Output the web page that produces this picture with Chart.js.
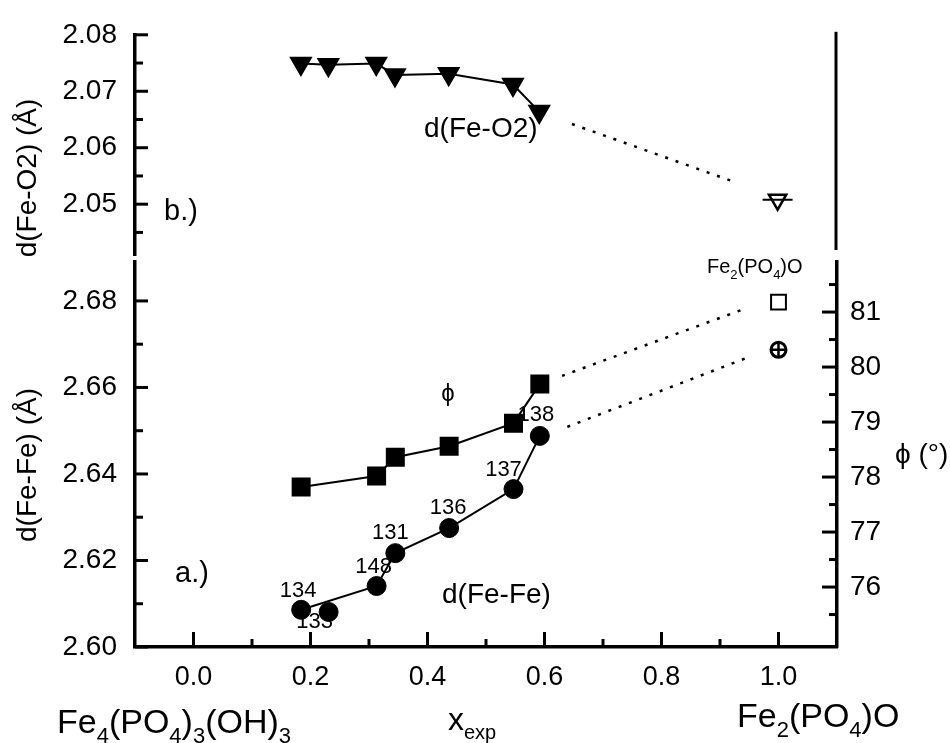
<!DOCTYPE html>
<html>
<head>
<meta charset="utf-8">
<script src="https://cdn.jsdelivr.net/npm/chart.js@4.4.1/dist/chart.umd.min.js"></script>
<style>
  html, body { margin: 0; padding: 0; background: #fff; }
  #wrap { position: relative; width: 950px; height: 743px; }
  #wrap canvas { position: absolute; left: 0; top: 0; }
</style>
</head>
<body>
<div id="wrap">
  <canvas id="panelB" width="950" height="743"></canvas>
  <canvas id="panelA" width="950" height="743"></canvas>
</div>
<script>
// ---- data ----
const xExp       = [0.184, 0.231, 0.313, 0.345, 0.437, 0.547, 0.592];
const sampleTags = ['134', '133', '148', '131', '136', '137', '138'];
const dFeO2      = [2.0749, 2.0747, 2.0749, 2.0729, 2.0731, 2.0712, 2.0664];
const dFeFe      = [2.6086, 2.6081, 2.6141, 2.6217, 2.6275, 2.6365, 2.6488];
const feFeLinked = [0, 2, 3, 4, 5, 6];          // sample 133 is not on the line
const phiX       = [0.184, 0.313, 0.345, 0.437, 0.547, 0.592];
const phiDeg     = [77.82, 78.02, 78.36, 78.56, 78.98, 79.69];

// Fe2(PO4)O end member
const refX     = 1.0;
const refFeO2  = 2.0508;
const refFeFe  = 2.6687;
const refPhi   = 81.18;

// dotted guides toward the end member [x, y]
const guideFeO2 = [[0.648, 2.0642], [0.919, 2.0542]];
const guidePhi  = [[0.630, 79.84], [0.940, 81.05]];
const guideFeFe = [[0.639, 2.6509], [0.945, 2.6668]];

// ticks
const xTicks       = [0.0, 0.2, 0.4, 0.6, 0.8, 1.0];
const xMinor       = [0.1, 0.3, 0.5, 0.7, 0.9];
const feO2Ticks    = [2.05, 2.06, 2.07, 2.08];
const feO2Minor    = [2.045, 2.055, 2.065, 2.075];
const feFeTicks    = [2.60, 2.62, 2.64, 2.66, 2.68];
const feFeMinor    = [2.61, 2.63, 2.65, 2.67];
const phiTicks     = [76, 77, 78, 79, 80, 81];
const phiMinor     = [75.5, 76.5, 77.5, 78.5, 79.5, 80.5, 81.5];

// ---- helpers ----
const FONT = "'Liberation Sans', Arial, sans-serif";
Chart.defaults.font.family = FONT;
Chart.defaults.color = '#000';
Chart.defaults.animation = false;

const pts = (xs, ys) => xs.map((x, i) => ({ x, y: ys[i] }));
const pairPts = arr => arr.map(([x, y]) => ({ x, y }));

// "Fe_{2}(PO_{4})O" -> subscripts
function richText(ctx, x, y, str, size, align) {
  const parts = [];
  const re = /_\{([^}]*)\}/g;
  let last = 0, m;
  while ((m = re.exec(str))) {
    if (m.index > last) parts.push([str.slice(last, m.index), false]);
    parts.push([m[1], true]);
    last = re.lastIndex;
  }
  if (last < str.length) parts.push([str.slice(last), false]);
  const sub = Math.round(size * 0.64);
  const f = s => s + 'px ' + FONT;
  let w = 0;
  parts.forEach(([t, s]) => { ctx.font = f(s ? sub : size); w += ctx.measureText(t).width; });
  let cx = align === 'center' ? x - w / 2 : x;
  ctx.textAlign = 'left';
  ctx.textBaseline = 'alphabetic';
  parts.forEach(([t, s]) => {
    ctx.font = f(s ? sub : size);
    ctx.fillText(t, cx, s ? y + size * 0.28 : y);
    cx += ctx.measureText(t).width;
  });
}

function fixedTicks(values, digits, padding, size) {
  return {
    afterBuildTicks: s => { s.ticks = values.map(v => ({ value: v })); },
    ticks: { callback: v => Number(v).toFixed(digits), padding, font: { size }, maxRotation: 0 }
  };
}

// inward tick marks + free text
const decor = {
  id: 'decor',
  afterDraw(chart, args, opts) {
    const { ctx, chartArea: a } = chart;
    ctx.save();
    ctx.strokeStyle = '#000';
    ctx.fillStyle = '#000';
    ctx.lineWidth = 3;
    (opts.marks || []).forEach(set => {
      const s = chart.scales[set.axis];
      set.values.forEach(v => {
        const p = s.getPixelForValue(v);
        ctx.beginPath();
        if (set.axis === 'x') { ctx.moveTo(p, a.bottom); ctx.lineTo(p, a.bottom - set.len); }
        else if (s.position === 'left') { ctx.moveTo(a.left, p); ctx.lineTo(a.left + set.len, p); }
        else { ctx.moveTo(a.right, p); ctx.lineTo(a.right - set.len, p); }
        ctx.stroke();
      });
    });
    if (opts.rightLine) {
      ctx.beginPath();
      ctx.moveTo(a.right, a.top - 3);
      ctx.lineTo(a.right, a.bottom - 5);
      ctx.stroke();
    }
    (opts.texts || []).forEach(t => {
      ctx.save();
      ctx.translate(t.x, t.y);
      if (t.rotate) ctx.rotate(t.rotate);
      richText(ctx, 0, 0, t.text, t.size, t.align || 'left');
      ctx.restore();
    });
    if (opts.tags) {
      const meta = chart.getDatasetMeta(opts.tags.dataset);
      ctx.font = opts.tags.size + 'px ' + FONT;
      ctx.textAlign = 'center';
      ctx.textBaseline = 'middle';
      meta.data.forEach((el, i) => {
        const [dx, dy] = opts.tags.offsets[i];
        ctx.fillText(opts.tags.labels[i], el.x + dx, el.y + dy);
      });
    }
    ctx.restore();
  }
};

const dotted = { borderColor: '#000', borderWidth: 2.5, borderDash: [3, 8], pointRadius: 0, showLine: true };
const axisBase = {
  type: 'linear',
  grid: { drawOnChartArea: false, drawTicks: false },
  border: { display: true, color: '#000', width: 3.5 }
};

// ---- panel b: d(Fe-O2) ----
// (Chart.js paints lower dataset indices on top)
new Chart(document.getElementById('panelA'), {
  type: 'scatter',
  data: {
    datasets: [
      { data: pts(xExp, dFeO2), showLine: true, borderColor: '#000', borderWidth: 2,
        pointStyle: 'triangle', rotation: 180, pointRadius: 11.5,
        pointBackgroundColor: '#000', pointBorderColor: '#000' },
      { data: [{ x: refX, y: refFeO2 }], pointStyle: 'line', pointRadius: 15,
        pointBorderColor: '#000', pointBorderWidth: 2 },
      { data: [{ x: refX, y: refFeO2 }], pointStyle: 'triangle', rotation: 180, pointRadius: 10,
        pointBackgroundColor: '#fff', pointBorderColor: '#000', pointBorderWidth: 2.5 },
      Object.assign({ data: pairPts(guideFeO2) }, dotted)
    ]
  },
  options: {
    responsive: false,
    layout: { padding: { top: 25, bottom: 488, left: 0, right: 114 } },
    plugins: {
      legend: { display: false }, tooltip: { enabled: false },
      decor: {
        marks: [
          { axis: 'y', values: feO2Ticks, len: 13 },
          { axis: 'y', values: feO2Minor, len: 8 }
        ],
        rightLine: true,
        texts: [
          { text: 'b.)', x: 164, y: 220, size: 29 },
          { text: 'd(Fe-O2)', x: 424, y: 137, size: 28 },
          { text: 'd(Fe-O2) (Å)', x: 36, y: 178, size: 28, align: 'center', rotate: -Math.PI / 2 }
        ]
      }
    },
    scales: {
      x: { type: 'linear', min: -0.1, max: 1.1, display: false },
      y: Object.assign({}, axisBase, {
        position: 'left', min: 2.041, max: 2.08,
        afterFit: s => { s.width = 135; }
      }, fixedTicks(feO2Ticks, 2, 18, 28))
    }
  },
  plugins: [decor]
});

// ---- panel a: d(Fe-Fe) and phi ----
new Chart(document.getElementById('panelB'), {
  type: 'scatter',
  data: {
    datasets: [
      { data: pts(xExp, dFeFe), pointStyle: 'circle', pointRadius: 9.5,
        pointBackgroundColor: '#000', pointBorderColor: '#000', yAxisID: 'y' },
      { data: feFeLinked.map(i => ({ x: xExp[i], y: dFeFe[i] })), showLine: true,
        borderColor: '#000', borderWidth: 2, pointRadius: 0, yAxisID: 'y' },
      { data: pts(phiX, phiDeg), showLine: true, borderColor: '#000', borderWidth: 2,
        pointStyle: 'rect', pointRadius: 12, pointBackgroundColor: '#000',
        pointBorderColor: '#000', yAxisID: 'y2' },
      { data: [{ x: refX, y: refPhi }], pointStyle: 'rect', pointRadius: 10.5,
        pointBackgroundColor: '#fff', pointBorderColor: '#000', pointBorderWidth: 2, yAxisID: 'y2' },
      { data: [{ x: refX, y: refFeFe }], pointStyle: 'cross', pointRadius: 7.5,
        pointBorderColor: '#000', pointBorderWidth: 2.5, yAxisID: 'y' },
      { data: [{ x: refX, y: refFeFe }], pointStyle: 'circle', pointRadius: 7.5,
        pointBackgroundColor: '#fff', pointBorderColor: '#000', pointBorderWidth: 3, yAxisID: 'y' },
      Object.assign({ data: pairPts(guidePhi), yAxisID: 'y2' }, dotted),
      Object.assign({ data: pairPts(guideFeFe), yAxisID: 'y' }, dotted)
    ]
  },
  options: {
    responsive: false,
    layout: { padding: { top: 262, bottom: 0, left: 0, right: 0 } },
    plugins: {
      legend: { display: false }, tooltip: { enabled: false },
      decor: {
        marks: [
          { axis: 'x', values: xTicks, len: 15 },
          { axis: 'x', values: xMinor, len: 8 },
          { axis: 'y', values: feFeTicks, len: 13 },
          { axis: 'y', values: feFeMinor, len: 8 },
          { axis: 'y2', values: phiTicks, len: 15 },
          { axis: 'y2', values: phiMinor, len: 8 }
        ],
        texts: [
          { text: 'a.)', x: 175, y: 582, size: 29 },
          { text: 'd(Fe-Fe)', x: 442, y: 603, size: 28 },
          { text: 'ϕ', x: 448, y: 401, size: 24, align: 'center' },
          { text: 'Fe_{2}(PO_{4})O', x: 707, y: 273, size: 20 },
          { text: 'ϕ (°)', x: 895, y: 463, size: 28 },
          { text: 'Fe_{4}(PO_{4})_{3}(OH)_{3}', x: 57, y: 733, size: 34 },
          { text: 'x_{exp}', x: 448, y: 730, size: 32 },
          { text: 'Fe_{2}(PO_{4})O', x: 737, y: 727, size: 34 },
          { text: 'd(Fe-Fe) (Å)', x: 36, y: 465, size: 28, align: 'center', rotate: -Math.PI / 2 }
        ],
        tags: {
          dataset: 0, labels: sampleTags, size: 22,
          offsets: [[-3, -19], [-14, 10], [-3, -19], [-5, -20], [-1, -20], [-10, -19], [-4, -21]]
        }
      }
    },
    scales: {
      x: Object.assign({}, axisBase, {
        position: 'bottom', min: -0.1, max: 1.1,
        afterFit: s => { s.height = 96; }
      }, fixedTicks(xTicks, 1, 14, 27)),
      y: Object.assign({}, axisBase, {
        position: 'left', min: 2.60, max: 2.689,
        afterFit: s => { s.width = 135; }
      }, fixedTicks(feFeTicks, 2, 18, 28)),
      y2: Object.assign({}, axisBase, {
        position: 'right', min: 74.91, max: 81.91,
        afterFit: s => { s.width = 113; }
      }, fixedTicks(phiTicks, 0, 13, 28))
    }
  },
  plugins: [decor]
});
</script>
</body>
</html>
